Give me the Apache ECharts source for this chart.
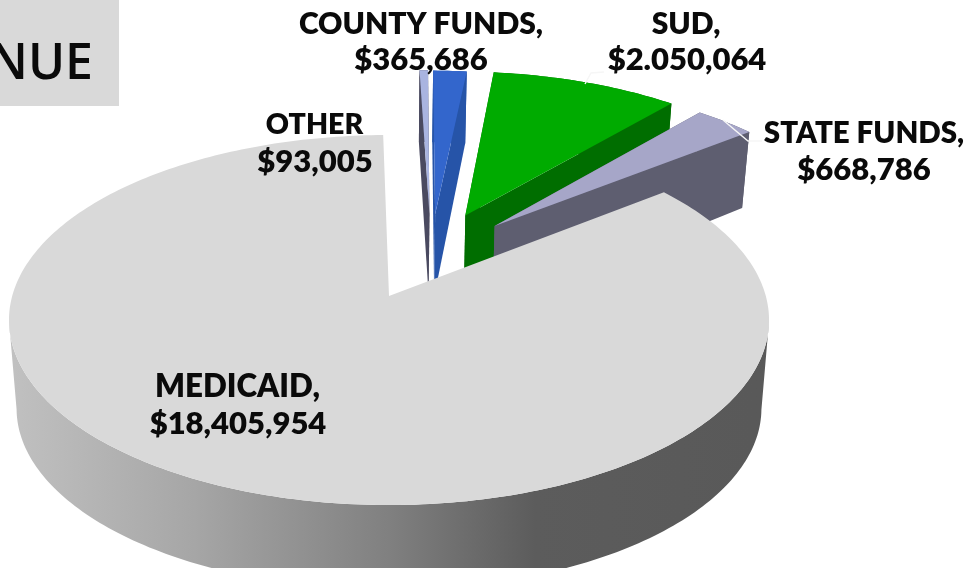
<!DOCTYPE html>
<html><head><meta charset="utf-8">
<style>html,body{margin:0;padding:0;background:#fff}#c{width:972px;height:568px}</style>
<script src="https://cdn.jsdelivr.net/npm/echarts@6/dist/echarts.min.js"></script>
</head><body><div id="c"></div>
<script>
// ---- data (drawing order = clockwise from the top of the pie) ----
const categories = ["OTHER", "COUNTY FUNDS,", "SUD,", "STATE FUNDS,", "MEDICAID,"];
const values = [93005, 365686, 2050064, 668786, 18405954];
const valueLabels = ["$93,005", "$365,686", "$2.050,064", "$668,786", "$18,405,954"];
const titleText = "NUE";

// ---- styling / layout ----
const topColors = ["#a9b4e0", "#3366cc", "#00ab00", "#a6a6c8", "#d9d9d9"];
const wallColors = ["#4a4a60", "#2654a8", "#006e00", "#5e5e70", null];
const explode = [[0.114, 0.48], [0.13, 0.477], [0.215, 0.47], [0.295, 0.405], [0, 0]];
const labelPos = [
  [[314.5, 125], [315, 162]],
  [[421, 24], [421, 60]],
  [[686, 24], [687, 60]],
  [[864, 133], [864, 170]],
  [[237.5, 387], [238, 424]]
];
const categoryFontSize = [28.5, 30, 30, 29.5, 31.3];
const leaders = [
  [[723, 120], [748, 141], [762, 141]],
  [[585, 84], [591, 73], [604, 72]]
];
const P = {cx: 389, cy: 296, A: 376.8, B: 181.9, k: 0.13, shrink: 0.98, H: 89, startDeg: -1};
const FONT = 'Lato, "Open Sans", sans-serif';

const total = values.reduce((a, b) => a + b, 0);

function topPt(u, v) {
  const s = 1 / (1 + P.k * v);
  return [P.cx + P.A * u * s, P.cy - P.B * v * s];
}
function lowPt(u, v) {
  const s = 1 / (1 + P.k * v);
  const h = P.H / (1 + 0.22 * Math.max(v, 0));
  return [P.cx + P.A * u * s * P.shrink, P.cy - P.B * v * s * P.shrink + h];
}
function sliceStart(i) {
  let before = 0;
  for (let j = 0; j < i; j++) before += values[j];
  return P.startDeg + before / total * 360;
}

const wallGradient = {
  type: 'linear', x: 0, y: 0, x2: 972, y2: 0, global: true,
  colorStops: [
    {offset: 0, color: '#c2c2c2'},
    {offset: 0.2, color: '#a6a6a6'},
    {offset: 0.4, color: '#808080'},
    {offset: 0.55, color: '#5c5c5c'},
    {offset: 1, color: '#565656'}
  ]
};

function renderSlice(params, api) {
  const i = params.dataIndex;
  const frac = api.value(0) / total;
  const a0 = sliceStart(i), a1 = a0 + frac * 360;
  const [px, py] = explode[i];
  const n = Math.max(2, Math.ceil((a1 - a0) / 1));
  const rim = [];
  for (let t = 0; t <= n; t++) {
    const a = (a0 + (a1 - a0) * t / n) * Math.PI / 180;
    rim.push([px + Math.sin(a), py + Math.cos(a)]);
  }
  const children = [];
  const wall = wallColors[i] || wallGradient;
  // the large slice only shows its front wall, from silhouette point to silhouette point
  const seen = wallColors[i] ? rim : rim.filter(p => p[1] <= -P.k);
  const outer = seen.map(p => topPt(p[0], p[1])).concat(seen.slice().reverse().map(p => lowPt(p[0], p[1])));
  children.push({type: 'polygon', shape: {points: outer}, style: {fill: wall}});
  if (wallColors[i]) {
    [rim[0], rim[rim.length - 1]].forEach(e => {
      children.push({type: 'polygon', shape: {points: [
        topPt(px, py), topPt(e[0], e[1]), lowPt(e[0], e[1]), lowPt(px, py)
      ]}, style: {fill: wall}});
    });
  }
  const face = [topPt(px, py)].concat(rim.map(p => topPt(p[0], p[1])));
  children.push({type: 'polygon', shape: {points: face}, style: {fill: topColors[i]}});
  return {type: 'group', children};
}

function renderLabel(params, api) {
  const i = params.dataIndex;
  const lines = [categories[i], valueLabels[i]];
  return {type: 'group', children: lines.map((t, l) => ({
    type: 'text',
    style: {
      x: labelPos[i][l][0], y: labelPos[i][l][1], text: t,
      fill: '#0a0a0a', font: '800 ' + (l === 0 ? categoryFontSize[i] : 31) + 'px ' + FONT,
      align: 'center', verticalAlign: 'middle'
    }
  }))};
}

const chart = echarts.init(document.getElementById('c'), null, {renderer: 'canvas'});
chart.setOption({
  animation: false,
  backgroundColor: '#fff',
  graphic: {elements: [
    {type: 'rect', left: 0, top: 0, z: -1, shape: {width: 119, height: 106}, style: {fill: '#d9d9d9'}},
    {type: 'text', z: 0, style: {x: 93, y: 65, text: titleText, fill: '#0a0a0a', font: '600 50px "Open Sans", sans-serif', align: 'right', verticalAlign: 'middle'}}
  ]},
  series: [
    {type: 'custom', coordinateSystem: 'none', silent: true, z: 2, clip: false,
     renderItem: renderSlice, data: values.map(v => [v])},
    {type: 'custom', coordinateSystem: 'none', silent: true, z: 3, clip: false,
     renderItem: () => ({type: 'group', children: leaders.map(pts => ({
        type: 'polyline', shape: {points: pts}, style: {stroke: '#f6f6f6', lineWidth: 1.4, fill: null}
     }))}), data: [[0]]},
    {type: 'custom', coordinateSystem: 'none', silent: true, z: 4, clip: false,
     renderItem: renderLabel, data: values.map(v => [v])}
  ]
});
</script></body></html>
